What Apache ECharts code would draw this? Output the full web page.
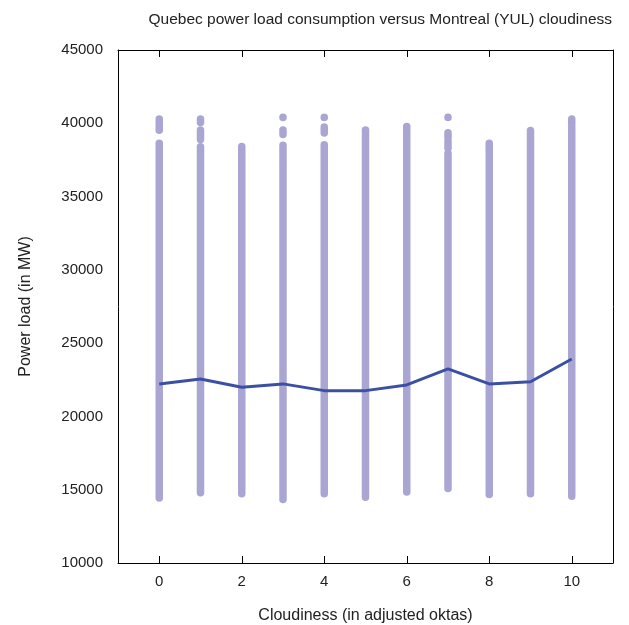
<!DOCTYPE html>
<html>
<head>
<meta charset="utf-8">
<title>Quebec power load vs cloudiness</title>
<script src="https://cdn.jsdelivr.net/npm/echarts@6/dist/echarts.min.js"></script>
<style>
  html, body { margin: 0; padding: 0; background: #fff; }
  #chart { width: 629px; height: 625px; }
</style>
</head>
<body>
<div id="chart"></div>
<script>
// cloudiness classes (adjusted oktas)
var cloudiness = [0, 1, 2, 3, 4, 5, 6, 7, 8, 9, 10];
// tick positions on the x axis
var xTicks = [0, 2, 4, 6, 8, 10];
// mean power load per class (MW)
var meanLoad = [22220, 22560, 21990, 22220, 21760, 21760, 22150, 23240, 22220, 22370, 23920];
// observed spans of load per class: [class, low, high] (dense runs of points)
var loadSpans = [
    [0, 14440, 38640], [0, 39530, 40300],
    [1, 14790, 38400], [1, 38900, 39550], [1, 40050, 40300],
    [2, 14720, 38420],
    [3, 14330, 37300], [3, 37480, 38500], [3, 39240, 39550], [3, 40400, 40420],
    [4, 14720, 38530], [4, 39330, 39740], [4, 40400, 40420],
    [5, 14490, 39550],
    [6, 14850, 39300], [6, 39500, 39780],
    [7, 15080, 37960], [7, 38300, 38800], [7, 39050, 39350], [7, 40400, 40420],
    [8, 14670, 38200], [8, 38350, 38640],
    [9, 14720, 39510],
    [10, 14560, 39700], [10, 39900, 40300]
];

var chart = echarts.init(document.getElementById('chart'));

var font = 'Liberation Sans, Arial, sans-serif';
var option = {
    animation: false,
    textStyle: { fontFamily: font },
    title: {
        text: 'Quebec power load consumption versus Montreal (YUL) cloudiness',
        right: 12,
        top: 7,
        textStyle: { fontSize: 15.5, fontWeight: 'normal', color: '#222', fontFamily: font }
    },
    grid: { left: 118, right: 16, top: 50, bottom: 62, outerBoundsMode: 'none', containLabel: false },
    xAxis: [{
        type: 'value',
        min: -1,
        max: 11,
        name: 'Cloudiness (in adjusted oktas)',
        nameLocation: 'middle',
        nameGap: 45,
        nameTextStyle: { fontSize: 16, color: '#222' },
        axisLine: { show: true, onZero: false, lineStyle: { color: '#000', width: 1 } },
        axisTick: {
            show: true, inside: true, length: 7,
            customValues: xTicks,
            lineStyle: { color: '#000', width: 1 }
        },
        axisLabel: {
            fontSize: 15, color: '#222', margin: 11,
            customValues: xTicks,
            formatter: function (v) { return String(v); }
        },
        splitLine: { show: false }
    }, {
        type: 'value',
        position: 'top',
        min: -1,
        max: 11,
        axisLine: { show: true, onZero: false, lineStyle: { color: '#000', width: 1 } },
        axisTick: { show: false },
        axisLabel: { show: false },
        splitLine: { show: false }
    }],
    yAxis: [{
        type: 'value',
        min: 10000,
        max: 45000,
        interval: 5000,
        name: 'Power load (in MW)',
        nameLocation: 'middle',
        nameGap: 84,
        nameTextStyle: { fontSize: 16, color: '#222' },
        axisLine: { show: true, onZero: false, lineStyle: { color: '#000', width: 1 } },
        axisTick: { show: false },
        axisLabel: {
            fontSize: 15, color: '#222', margin: 15,
            formatter: function (v) { return String(v); }
        },
        splitLine: { show: false }
    }, {
        type: 'value',
        position: 'right',
        min: 10000,
        max: 45000,
        interval: 5000,
        axisLine: { show: true, onZero: false, lineStyle: { color: '#000', width: 1 } },
        axisTick: { show: false },
        axisLabel: { show: false },
        splitLine: { show: false }
    }],
    series: [{
        name: 'Observations',
        type: 'custom',
        xAxisIndex: 0,
        yAxisIndex: 0,
        data: loadSpans,
        encode: { x: 0, y: [1, 2] },
        renderItem: function (params, api) {
            var top = api.coord([api.value(0), api.value(2)]);
            var bot = api.coord([api.value(0), api.value(1)]);
            var w = 7.5;
            return {
                type: 'rect',
                shape: {
                    x: top[0] - w / 2,
                    y: top[1] - w / 2,
                    width: w,
                    height: bot[1] - top[1] + w,
                    r: w / 2
                },
                style: { fill: '#a9a6d3' }
            };
        },
        z: 2
    }, {
        name: 'Mean',
        type: 'line',
        xAxisIndex: 0,
        yAxisIndex: 0,
        data: cloudiness.map(function (c, i) { return [c, meanLoad[i]]; }),
        showSymbol: false,
        symbol: 'none',
        lineStyle: { color: '#3b50a3', width: 3 },
        z: 3
    }, {
        // inward ticks along the top frame, matching the bottom axis
        name: 'TopTicks',
        type: 'custom',
        xAxisIndex: 0,
        yAxisIndex: 0,
        silent: true,
        clip: false,
        data: xTicks.map(function (t) { return [t, 45000]; }),
        encode: { x: 0, y: 1 },
        renderItem: function (params, api) {
            var p = api.coord([api.value(0), api.value(1)]);
            var x = Math.round(p[0]) + 0.5;
            return {
                type: 'line',
                shape: { x1: x, y1: p[1], x2: x, y2: p[1] + 7 },
                style: { stroke: '#000', lineWidth: 1 }
            };
        },
        z: 4
    }]
};

chart.setOption(option);
</script>
</body>
</html>
